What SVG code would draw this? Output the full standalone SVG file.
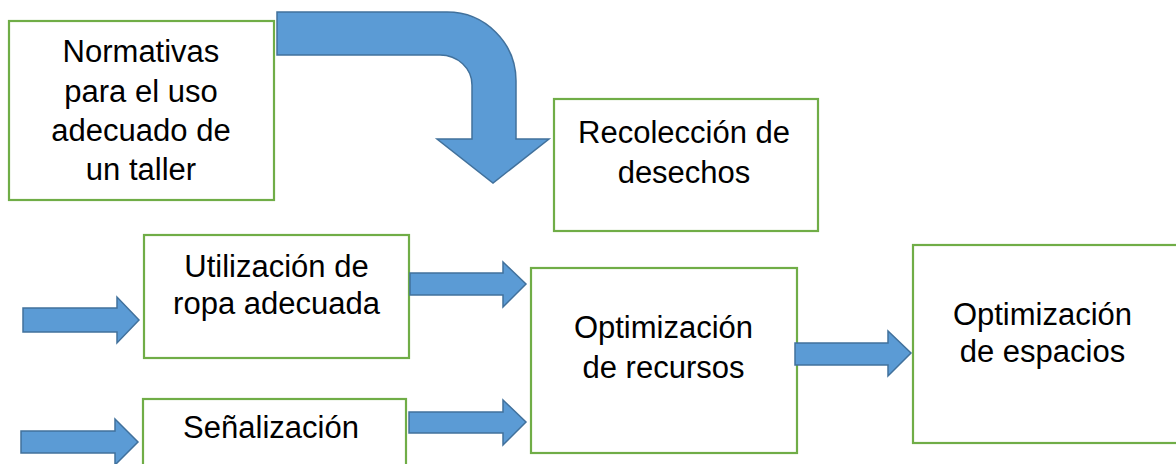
<svg xmlns="http://www.w3.org/2000/svg" width="1176" height="464" viewBox="0 0 1176 464">
<style>
.box{fill:#fff;stroke:#70AD47;stroke-width:2.2}
.arr{fill:#5B9BD5;stroke:#41719C;stroke-width:1.5;stroke-linejoin:miter}
text{font-family:"Liberation Sans",Arial,sans-serif;font-size:31px;fill:#000;text-anchor:middle}
</style>
<rect width="1176" height="464" fill="#fff"/>
<g id="n1"><rect class="box" x="9" y="21" width="265" height="179"/>
<text x="141" y="62">Normativas</text><text x="141" y="102">para el uso</text><text x="141" y="141">adecuado de</text><text x="141" y="180">un taller</text></g>
<g id="n2"><rect class="box" x="554" y="99" width="264" height="132"/>
<text x="684" y="143">Recolección de</text><text x="684" y="183">desechos</text></g>
<g id="n3"><rect class="box" x="144" y="235" width="265" height="123"/>
<text x="276.5" y="277">Utilización de</text><text x="276.5" y="314">ropa adecuada</text></g>
<g id="n4"><rect class="box" x="143" y="399" width="263" height="80"/>
<text x="271" y="438">Señalización</text></g>
<g id="n5"><rect class="box" x="531" y="268" width="266" height="185"/>
<text x="663.5" y="338">Optimización</text><text x="663.5" y="378">de recursos</text></g>
<g id="n6"><rect class="box" x="913" y="245" width="270" height="198"/>
<text x="1042.5" y="325">Optimización</text><text x="1042.5" y="362">de espacios</text></g>
<g id="connectors">
<path class="arr" d="M277,12 L447,12 A69,69 0 0 1 516,81 L516,139 L549,139 L493,183 L437,139 L472,139 L472,85 A32,30 0 0 0 440,55 L277,55 Z"/>
<path class="arr" d="M23,308 L117,308 L117,297 L139,320 L117,343 L117,332 L23,332 Z"/>
<path class="arr" d="M21,431 L115,431 L115,419 L138,442 L115,465 L115,453 L21,453 Z"/>
<path class="arr" d="M410,273 L503,273 L503,262 L526,284 L503,307 L503,295 L410,295 Z"/>
<path class="arr" d="M409,412 L503,412 L503,400 L526,422 L503,445 L503,433 L409,433 Z"/>
<path class="arr" d="M795,343 L888,343 L888,331 L911,353 L888,376 L888,365 L795,365 Z"/>
</g>
</svg>
